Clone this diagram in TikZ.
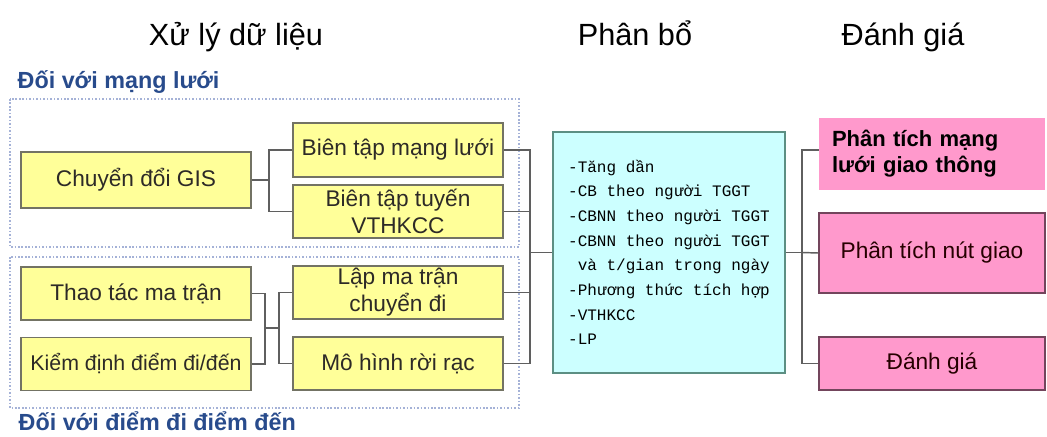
\documentclass[tikz,border=0pt]{standalone}
\usepackage{fontspec}
\setmainfont{Liberation Sans}
\newfontfamily\monofont{Liberation Mono}
\usetikzlibrary{positioning}
\definecolor{boxyellow}{RGB}{255,255,153}
\definecolor{boxcyan}{RGB}{204,255,255}
\definecolor{boxpink}{RGB}{255,153,204}
\definecolor{edgegray}{RGB}{115,115,100}
\definecolor{linkgray}{RGB}{95,95,95}
\definecolor{groupblue}{RGB}{40,75,140}
\definecolor{dotblue}{RGB}{165,178,215}

\tikzset{
  procbox/.style={draw=edgegray, line width=1pt, fill=boxyellow, inner sep=0pt,
    align=center, text=black!90!olive, font=\fontsize{17}{20.25}\selectfont},
  leftbox/.style={procbox, minimum width=172.5pt, minimum height=39.75pt},
  rightbox/.style={procbox, minimum width=157.5pt, minimum height=40.5pt},
  evalbox/.style={fill=boxpink, minimum width=169.5pt, inner sep=0pt,
    text=black!85!red, font=\fontsize{17}{20}\selectfont},
  heading/.style={anchor=base, font=\fontsize{23}{26}\selectfont},
  grouplabel/.style={anchor=base west, text=groupblue,
    font=\fontsize{17.5}{20}\selectfont\bfseries},
  groupframe/.style={draw=dotblue, line width=0.9pt, dash pattern=on 1.2pt off 1.4pt},
  link/.style={draw=linkgray, line width=1.1pt}
}

\begin{document}
\begin{tikzpicture}[x=0.75pt, y=-0.75pt]
  \useasboundingbox (0,0) rectangle (1047,436);

  % column headings
  \node[heading] (hdata) at (236,45) {Xử lý dữ liệu};
  \node[heading] (halloc) at (635,45) {Phân bổ};
  \node[heading] (heval) at (903,45) {Đánh giá};

  % groups
  \draw[groupframe] (10,99) rectangle (519,247);
  \draw[groupframe] (10,257) rectangle (519,408);
  \node[grouplabel] (gnet) at (13,88) {Đối với mạng lưới};
  \node[grouplabel] (godp) at (14,430) {Đối với điểm đi điểm đến};

  % data processing
  \node[leftbox, minimum height=42pt] (gis) at (136,180) {Chuyển đổi GIS};
  \node[rightbox] (netedit) at (398,150) {Biên tập mạng lưới};
  \node[rightbox, minimum height=39.75pt] (routeedit) at (398,211.5) {Biên tập tuyến\\VTHKCC};
  \node[leftbox] (matop) at (136,293.5) {Thao tác ma trận};
  \node[leftbox, font=\fontsize{16}{20}\selectfont] (odcheck) at (136,364) {Kiểm định điểm đi/đến};
  \node[rightbox, minimum height=39.75pt] (tripmat) at (398,292.5) {Lập ma trận\\chuyển đi};
  \node[rightbox, minimum height=39.75pt] (discrete) at (398,363.5) {Mô hình rời rạc};

  % assignment
  \node[draw=edgegray!80!cyan, line width=1pt, fill=boxcyan, minimum width=174pt,
    minimum height=180.75pt, inner sep=0pt, align=left,
    font=\monofont\fontsize{12}{18.5}\selectfont] (alloc) at (669,252.5)
    {-Tăng dần\\-CB theo người TGGT\\-CBNN theo người TGGT\\-CBNN theo người TGGT\\
     \phantom{-}và t/gian trong ngày\\-Phương thức tích hợp\\-VTHKCC\\-LP};

  % evaluation
  \node[evalbox, minimum height=54pt, text width=150pt, inner xsep=9.75pt, align=left,
    text=black, font=\fontsize{16.5}{19.5}\selectfont\bfseries] (netanal) at (932,154)
    {Phân tích mạng\\lưới giao thông};
  \node[evalbox, draw=black!55!boxpink, line width=1pt, minimum height=60pt] (junction) at (932,253) {Phân tích nút giao};
  \node[evalbox, draw=black!55!boxpink, line width=1pt, minimum height=39.75pt] (assess) at (932,363.5) {Đánh giá};

  % connectors
  \coordinate (jgis) at (269,180);
  \coordinate (jleft) at (265,328);
  \coordinate (jright) at (279,328);
  \coordinate (jbus) at (530,252.5);
  \coordinate (jeval) at (802,252.5);

  \draw[link] (gis.east) -- (jgis);
  \draw[link] (netedit.west) -| (jgis) |- (routeedit.west);
  \draw[link] (matop.east) -| (jleft) |- (odcheck.east);
  \draw[link] (jleft) -- (jright);
  \draw[link] (tripmat.west) -| (jright) |- (discrete.west);
  \draw[link] (netedit.east) -| (jbus) |- (discrete.east);
  \draw[link] (routeedit.east) -| (jbus);
  \draw[link] (tripmat.east) -| (jbus);
  \draw[link] (jbus) -- (alloc.west);
  \draw[link] (alloc.east) -- (jeval);
  \draw[link] (netanal.west |- 0,150) -| (jeval) |- (assess.west);
  \draw[link] (jeval) -- (junction.west);
\end{tikzpicture}
\end{document}
